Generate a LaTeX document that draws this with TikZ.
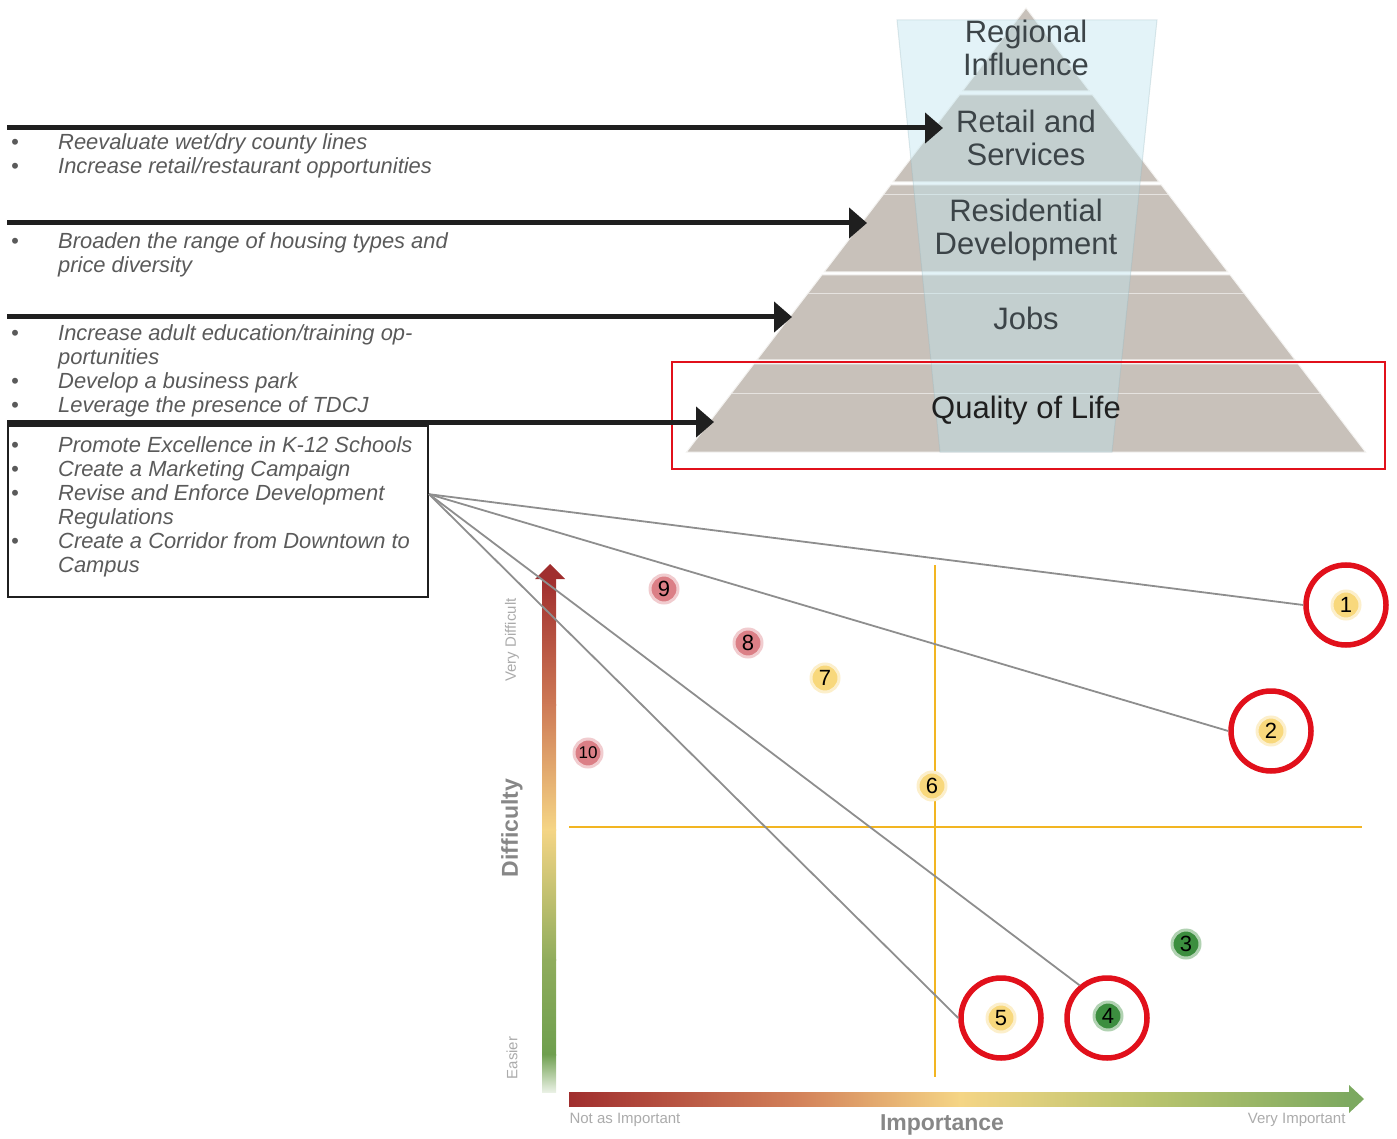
\documentclass[tikz,border=0pt]{standalone}
\usepackage{fontspec}
\setmainfont{Liberation Sans}
\usepackage{tikz}
\usetikzlibrary{positioning}
\usetikzlibrary{arrows.meta}
\usetikzlibrary{calc}

\definecolor{layergrey}{HTML}{C8C1BA}
\definecolor{glassblue}{HTML}{BDE3EE}
\definecolor{ringred}{HTML}{E1101B}
\definecolor{inkgrey}{HTML}{5A5A5A}
\definecolor{tiergrey}{HTML}{3C4448}
\definecolor{dotpink}{HTML}{DB7F86}
\definecolor{dotyellow}{HTML}{F8D87C}
\definecolor{dotgreen}{HTML}{3C8E3F}
\definecolor{quadline}{HTML}{F2B522}
\definecolor{axred}{HTML}{A02E2E}
\definecolor{axorange}{HTML}{D3825A}
\definecolor{axyellow}{HTML}{F5D585}
\definecolor{axlime}{HTML}{B9C46E}
\definecolor{axgreen}{HTML}{6E9F4E}
\definecolor{linkgrey}{HTML}{8E8E8E}

\newcommand{\bul}{\hspace*{4pt}\textbullet}

\begin{document}
\begin{tikzpicture}[x=1pt, y=-1pt,
    layer/.style={fill=layergrey, draw=white!80!layergrey, line width=1pt},
    bevel/.style={draw=white!55!layergrey, line width=0.8pt},
    glass/.style={fill=glassblue, fill opacity=0.42, draw=glassblue!80!black,
    draw opacity=0.3, line width=1pt},
    tier/.style={align=center, text=tiergrey, font=\fontsize{31}{33}\selectfont},
    pointer/.style={line width=5pt, draw=black!88,
    -{Triangle[length=18pt, width=30pt]}},
    bullets/.style={anchor=north west, inner sep=0pt, text=inkgrey,
    font=\fontsize{21.9}{24}\selectfont\itshape},
    dot/.style={circle, fill=#1, draw=#1!40, line width=3pt, minimum size=28pt,
    inner sep=0pt, font=\fontsize{22}{22}\selectfont},
    ring/.style={circle, draw=ringred, line width=5.5pt, minimum size=80pt,
    inner sep=0pt},
    link/.style={draw=linkgrey, line width=1.8pt},
    quad/.style={draw=quadline, line width=1.2pt},
    axislabel/.style={text=black!33, font=\fontsize{15}{15}\selectfont},
    axistitle/.style={text=black!47, font=\fontsize{23}{23}\selectfont\bfseries}]
    \useasboundingbox (0,0) rectangle (1397,1139);

    % pyramid
    \coordinate (apex) at (1026,8);
    \coordinate (bl) at (686.5,452);
    \coordinate (br) at (1365.5,452);
    \foreach \ytop/\ybot in {8/91,95/182,185/272,275/360,364/452}
        \path[layer] ($(apex)!{(\ytop-8)/444}!(bl)$) -- ($(apex)!{(\ytop-8)/444}!(br)$)
            -- ($(apex)!{(\ybot-8)/444}!(br)$) -- ($(apex)!{(\ybot-8)/444}!(bl)$) -- cycle;
    \foreach \y in {194,293,393}
        \draw[bevel] ($(apex)!{(\y-8)/444}!(bl)$) -- ($(apex)!{(\y-8)/444}!(br)$);
    \path[glass] (897,20) -- (1157,20) -- (1112,452) -- (940,452) -- cycle;

    \node[tier] (regional) at (1026,48) {Regional\\Influence};
    \node[tier] (retail) at (1026,138) {Retail and\\Services};
    \node[tier] (residential) at (1026,230) {Residential\\Development};
    \node[tier] (jobs) at (1026,318) {Jobs};
    \node[tier, text=black!88] (quality) at (1026,410) {Quality of Life};
    \node[draw=ringred, line width=2pt, minimum width=713pt, minimum height=107pt,
        anchor=north west, inner sep=0pt] (focus) at (671,361) {};

    % strategy lists
    \node[bullets] (retaillist) at (7,133) {\begin{tabular}{@{}p{51pt}@{}l@{}}
        \bul & Reevaluate wet/dry county lines\\
        \bul & Increase retail/restaurant opportunities
        \end{tabular}};
    \node[bullets] (housinglist) at (7,232) {\begin{tabular}{@{}p{51pt}@{}l@{}}
        \bul & Broaden the range of housing types and\\
        & price diversity
        \end{tabular}};
    \node[bullets] (jobslist) at (7,323) {\begin{tabular}{@{}p{51pt}@{}l@{}}
        \bul & Increase adult education/training op-\\
        & portunities\\
        \bul & Develop a business park\\
        \bul & Leverage the presence of TDCJ
        \end{tabular}};
    \node[draw=black!88, line width=2pt, minimum width=420pt, minimum height=171pt,
        anchor=north west, inner sep=0pt] (qolbox) at (7,425) {};
    \node[bullets] (qollist) at (7,435) {\begin{tabular}{@{}p{51pt}@{}l@{}}
        \bul & Promote Excellence in K-12 Schools\\
        \bul & Create a Marketing Campaign\\
        \bul & Revise and Enforce Development\\
        & Regulations\\
        \bul & Create a Corridor from Downtown to\\
        & Campus
        \end{tabular}};

    \coordinate (s1) at (7,128);   \coordinate (t1) at (943,128);
    \coordinate (s2) at (7,223);   \coordinate (t2) at (867,223);
    \coordinate (s3) at (7,317);   \coordinate (t3) at (792,317);
    \coordinate (s4) at (7,422);   \coordinate (t4) at (714,422);

    % matrix axes
    \shade[top color=axred, bottom color=axorange!90!axred] (542,578) rectangle (556,705);
    \shade[top color=axorange!90!axred, bottom color=axyellow] (542,704) rectangle (556,830);
    \shade[top color=axyellow, bottom color=axgreen!75!axyellow] (542,829) rectangle (556,960);
    \shade[top color=axgreen!75!axyellow, bottom color=axgreen] (542,959) rectangle (556,1055);
    \shade[top color=axgreen, bottom color=axgreen!15] (542,1054) rectangle (556,1092);
    \fill[axred] (535,579) -- (565,579) -- (550,564) -- cycle;
    \shade[left color=axred, right color=axorange] (569,1092) rectangle (800,1106);
    \shade[left color=axorange, right color=axyellow] (799,1092) rectangle (960,1106);
    \shade[left color=axyellow, right color=axlime] (959,1092) rectangle (1150,1106);
    \shade[left color=axlime, right color=axgreen!90!white] (1149,1092) rectangle (1350,1106);
    \fill[axgreen!90!white] (1349,1085) -- (1349,1113) -- (1364,1099) -- cycle;

    \coordinate (qtop) at (935,565);   \coordinate (qbot) at (935,1077);
    \coordinate (qleft) at (569,827);  \coordinate (qright) at (1362,827);
    \draw[quad] (qtop) -- (qbot);
    \draw[quad] (qleft) -- (qright);

    \node[axislabel, rotate=90] (hard) at (512,640) {Very Difficult};
    \node[axislabel, rotate=90] (easy) at (512,1058) {Easier};
    \node[axistitle, rotate=90] (difficulty) at (512,828) {Difficulty};
    \node[axislabel, anchor=west] (lowimp) at (566,1120) {Not as Important};
    \node[axislabel, anchor=east] (highimp) at (1349,1120) {Very Important};
    \node[axistitle] (importance) at (942,1125) {Importance};

    % strategies
    \node[dot=dotpink] (d9) at (664,589) {9};
    \node[dot=dotpink] (d8) at (748,643) {8};
    \node[dot=dotyellow] (d7) at (825,678) {7};
    \node[dot=dotpink, font=\fontsize{17}{17}\selectfont] (d10) at (588,753) {10};
    \node[dot=dotyellow] (d6) at (932,786) {6};
    \node[dot=dotyellow] (d1) at (1346,605) {1};
    \node[dot=dotyellow] (d2) at (1271,731) {2};
    \node[dot=dotgreen] (d3) at (1186,944) {3};
    \node[dot=dotgreen] (d4) at (1108,1016) {4};
    \node[dot=dotyellow] (d5) at (1001,1018) {5};
    \node[ring] (ring1) at (d1) {};
    \node[ring] (ring2) at (d2) {};
    \node[ring] (ring4) at (1107,1018) {};
    \node[ring] (ring5) at (d5) {};
    \coordinate (hub) at ($(qolbox.north east)!0.4!(qolbox.south east)$);

\draw[pointer] (s1) -- (t1);
\draw[pointer] (s2) -- (t2);
\draw[pointer] (s3) -- (t3);
\draw[pointer] (s4) -- (t4);
\draw[link] (hub) -- (ring1.west);
\draw[link] (hub) -- (ring2.west);
\draw[link] (hub) -- (ring4.130);
\draw[link] (hub) -- (ring5.west);
\end{tikzpicture}
\end{document}
